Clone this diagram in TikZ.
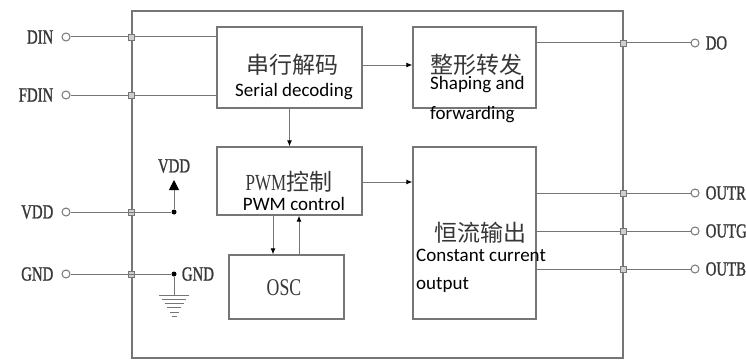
\documentclass[tikz,border=0pt]{standalone}
\usepackage{fontspec}
\usepackage{xcolor}
\usepackage{tikz}
\usetikzlibrary{arrows.meta,positioning}
\newfontfamily\cjk{Noto Sans CJK SC}
\newfontfamily\enfont{Carlito}
\newfontfamily\pinfont[FakeStretch=0.74]{Liberation Serif}
\newfontfamily\pinboldfont[FakeStretch=0.74,FakeBold=1]{Liberation Serif}
\definecolor{wiregray}{RGB}{118,118,118}
\definecolor{inkgray}{RGB}{55,55,55}

\begin{document}
\begin{tikzpicture}[x=1pt, y=-1pt,
  wire/.style={draw=wiregray, line width=1pt},
  blockbox/.style={draw=wiregray, line width=1.3pt, inner sep=0pt},
  pin/.style={circle, draw=wiregray, line width=1pt, fill=white, minimum size=8pt, inner sep=0pt},
  joint/.style={rectangle, draw=wiregray, fill=wiregray!35, line width=0.6pt, minimum size=6pt, inner sep=0pt},
  bigdot/.style={circle, fill=black, minimum size=5pt, inner sep=0pt},
  tip/.style={-{Latex[length=6pt,width=5pt,color=black]}},
  pinlabel/.style={font=\pinboldfont\fontsize{20}{20}\selectfont, text=inkgray, inner sep=0pt},
  cntext/.style={font=\cjk\fontsize{23}{23}\selectfont, text=inkgray, inner sep=0pt},
  entext/.style={font=\enfont\fontsize{19}{19}\selectfont, text=black, inner sep=0pt}]
  \useasboundingbox[fill=white] (0,0) rectangle (746,361);
  % chip outline and blocks
  \node[blockbox, minimum width=491pt, minimum height=347pt] (chip) at (377.5,184.5) {};
  \node[blockbox, minimum width=145pt, minimum height=81pt] (serial) at (289.5,67.5) {};
  \node[blockbox, minimum width=123pt, minimum height=81pt] (shape) at (474.5,67.5) {};
  \node[blockbox, minimum width=145pt, minimum height=68pt] (pwm) at (289.5,181) {};
  \node[blockbox, minimum width=123pt, minimum height=172pt] (ccout) at (474.5,233) {};
  \node[blockbox, minimum width=115pt, minimum height=64pt] (osc) at (286.5,287) {};
  % block texts
  \node[cntext] (serialcn) at (292,65) {串行解码};
  \node[entext] (serialen) at (294,92) {Serial decoding};
  \node[cntext] (shapecn) at (476,65) {整形转发};
  \node[entext, anchor=west] (shapeen) at (430,85) {Shaping and};
  \node[entext, anchor=west] (shapeen2) at (430,115) {forwarding};
  \node[cntext] (pwmcn) at (289,182) {{\pinfont\fontsize{23}{23}\selectfont PWM}控制};
  \node[entext] (pwmen) at (294,204) {PWM control};
  \node[cntext] (cccn) at (480,233) {恒流输出};
  \node[entext, anchor=west] (ccen) at (416,255) {Constant current};
  \node[entext, anchor=west] (ccen2) at (416,285) {output};
  \node[pinlabel, font=\pinfont\fontsize{24}{24}\selectfont] (osctext) at (284,288) {OSC};
  % pins
  \node[pin] (pdin) at (66,37) {};
  \node[pin] (pfdin) at (66,95) {};
  \node[pin] (pvdd) at (66,212) {};
  \node[pin] (pgnd) at (66,274) {};
  \node[pin] (pdo) at (695,43) {};
  \node[pin] (poutr) at (695,193) {};
  \node[pin] (poutg) at (695,231) {};
  \node[pin] (poutb) at (695,269) {};
  \node[pinlabel, left=8pt of pdin] {DIN};
  \node[pinlabel, left=8pt of pfdin] {FDIN};
  \node[pinlabel, left=8pt of pvdd] {VDD};
  \node[pinlabel, left=8pt of pgnd] {GND};
  \node[pinlabel, right=6pt of pdo] {DO};
  \node[pinlabel, right=6pt of poutr] {OUTR};
  \node[pinlabel, right=6pt of poutg] {OUTG};
  \node[pinlabel, right=6pt of poutb] {OUTB};
  % wires through the chip edge
  \draw[wire] (pdin) -- (pdin -| serial.west);
  \draw[wire] (pfdin) -- (pfdin -| serial.west);
  \draw[wire] (pdo -| shape.east) -- (pdo);
  \draw[wire] (poutr -| ccout.east) -- (poutr);
  \draw[wire] (poutg -| ccout.east) -- (poutg);
  \draw[wire] (poutb -| ccout.east) -- (poutb);
  \foreach \p in {pdin,pfdin,pvdd,pgnd} \node[joint] at (\p -| chip.west) {};
  \foreach \p in {pdo,poutr,poutg,poutb} \node[joint] at (\p -| chip.east) {};
  % supply
  \node[bigdot] (vddn) at (174,212) {};
  \coordinate (vddtop) at (174,180);
  \node[pinlabel] (vddlabel) at (174,166) {VDD};
  \draw[wire] (pvdd) -- (vddn);
  \draw[wire, -{Triangle[length=10pt,width=10pt,color=black]}] (vddn) -- (vddtop);
  \node[bigdot] (gndn) at (174,274) {};
  \node[pinlabel, right=5pt of gndn] (gndlabel) {GND};
  \draw[wire] (pgnd) -- (gndn);
  \coordinate (earth) at (174,295);
  \draw[wire] (gndn) -- (earth);
  \foreach \i/\w in {0/15,1/12,2/9.5,3/7,4/4.5,5/2.5} \draw[wire] ([xshift=-\w pt, yshift=-4.3*\i pt]earth) -- ([xshift=\w pt, yshift=-4.3*\i pt]earth);
  % signal flow
  \draw[wire, tip] (serial.east |- 0,65) -- (shape.west |- 0,65);
  \draw[wire, tip] (serial.south) -- (pwm.north);
  \draw[wire, tip] (pwm.east |- 0,182) -- (ccout.west |- 0,182);
  \draw[wire, tip] (pwm.south -| 273,0) -- (osc.north -| 273,0);
  \draw[wire, tip] (osc.north -| 299,0) -- (pwm.south -| 299,0);
\end{tikzpicture}
\end{document}
